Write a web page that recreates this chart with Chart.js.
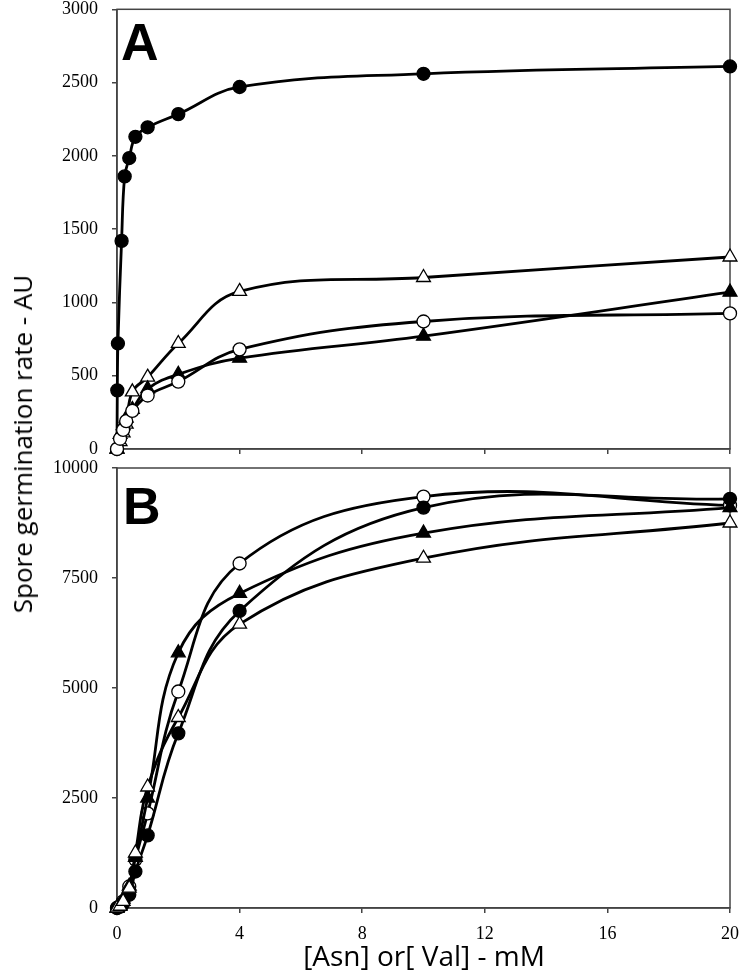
<!DOCTYPE html>
<html>
<head>
<meta charset="utf-8">
<script src="https://cdn.jsdelivr.net/npm/chart.js@4.4.1/dist/chart.umd.min.js"></script>
<style>
  body { margin: 0; background: #fff; }
  #page { position: relative; width: 742px; height: 973px; overflow: hidden; background: #fff; }
  #chartA { position: absolute; left: 0; top: 0; }
  #chartB { position: absolute; left: 0; top: 458px; }
  .letter { position: absolute; font-family: "Liberation Sans", Arial, sans-serif; font-weight: bold; font-size: 52px; line-height: 1; color: #000; }
  .axis-title { position: absolute; font-family: "Open Sans", sans-serif; color: #000; white-space: nowrap; line-height: 1; }
  #ytitle { left: 22px; top: 444px; font-size: 26px; transform: translate(-50%, -50%) rotate(-90deg); }
  #xtitle { left: 424px; top: 955px; font-size: 28px; transform: translate(-50%, -50%); }
</style>
</head>
<body>
<div id="page">
  <canvas id="chartA" width="742" height="460"></canvas>
  <canvas id="chartB" width="742" height="515"></canvas>
  <div class="letter" style="left:121px;top:16px;">A</div>
  <div class="letter" style="left:123px;top:480px;">B</div>
  <div class="axis-title" id="ytitle">Spore germination rate - AU</div>
  <div class="axis-title" id="xtitle">[Asn] or[ Val] - mM</div>
</div>
<script>
// x ticks shared by both panels
const xTicks = [0, 4, 8, 12, 16, 20];

// Panel A
const xA_filledCircle = [0, 0.01, 0.03, 0.15, 0.25, 0.4, 0.6, 1, 2, 4, 10, 20];
const yA_filledCircle = [0, 400, 720, 1420, 1860, 1985, 2130, 2195, 2285, 2470, 2560, 2610];
const xA = [0, 0.1, 0.2, 0.3, 0.5, 1, 2, 4, 10, 20];
const yA_openTriangle = [0, 50, 110, 170, 390, 490, 720, 1075, 1170, 1310];
const yA_openCircle = [0, 70, 130, 190, 260, 365, 460, 680, 870, 925];
const yA_filledTriangle = [0, 100, 160, 210, 270, 410, 510, 620, 770, 1070];

// Panel B
const xB = [0, 0.1, 0.2, 0.4, 0.6, 1, 2, 4, 10, 20];
const yB_openCircle = [0, 50, 150, 490, 1100, 2150, 4920, 7830, 9350, 9150];
const yB_filledCircle = [0, 30, 100, 300, 830, 1650, 3970, 6750, 9100, 9300];
const yB_filledTriangle = [0, 60, 200, 500, 1150, 2500, 5800, 7150, 8520, 9100];
const yB_openTriangle = [0, 40, 150, 450, 1250, 2750, 4330, 6450, 7950, 8750];

const AXIS_COLOR = '#444';
const TICK_FONT = { family: '"Liberation Serif", "Times New Roman", serif', size: 18 };

function series(xs, ys, style, filled) {
  return {
    data: xs.map((x, i) => ({ x: x, y: ys[i] })),
    showLine: true,
    borderColor: '#000',
    borderWidth: 2.8,
    tension: 0.4,
    pointStyle: style,
    pointRadius: style === 'triangle' ? 8 : 6.5,
    pointBackgroundColor: filled ? '#000' : '#fff',
    pointBorderColor: '#000',
    pointBorderWidth: 1.3,
    clip: false
  };
}

// draws the box round the plot area
const frame = {
  id: 'frame',
  beforeDatasetsDraw(chart) {
    const a = chart.chartArea;
    const ctx = chart.ctx;
    ctx.save();
    ctx.strokeStyle = AXIS_COLOR;
    ctx.lineWidth = 1.5;
    ctx.strokeRect(a.left, a.top, a.right - a.left, a.bottom - a.top);
    ctx.restore();
  }
};

function makeOptions(yMax, yStep, showXLabels, xHeight, padTop) {
  return {
    responsive: false,
    animation: false,
    layout: { padding: { top: padTop, right: 12, left: 0, bottom: 0 } },
    plugins: { legend: { display: false }, tooltip: { enabled: false } },
    scales: {
      x: {
        type: 'linear',
        min: 0,
        max: 20,
        afterBuildTicks(scale) { scale.ticks = xTicks.map(v => ({ value: v })); },
        afterFit(scale) {
          scale.height = xHeight;
          scale.paddingLeft = 0;
          scale.paddingRight = 0;
        },
        grid: { drawOnChartArea: false, drawTicks: true, tickLength: 5, color: AXIS_COLOR, lineWidth: 1.5 },
        border: { color: AXIS_COLOR, width: 1.5 },
        ticks: { display: showXLabels, color: '#000', font: TICK_FONT, padding: 10, maxRotation: 0,
                 callback: v => String(v) }
      },
      y: {
        min: 0,
        max: yMax,
        afterFit(scale) {
          scale.width = 117;
          scale.paddingTop = 0;
          scale.paddingBottom = 0;
        },
        grid: { drawOnChartArea: false, drawTicks: true, tickLength: 5, color: AXIS_COLOR, lineWidth: 1.5 },
        border: { color: AXIS_COLOR, width: 1.5 },
        ticks: { stepSize: yStep, color: '#000', font: TICK_FONT, padding: 14, callback: v => String(v) }
      }
    }
  };
}

new Chart(document.getElementById('chartA'), {
  type: 'scatter',
  data: {
    datasets: [
      series(xA, yA_openCircle, 'circle', false),
      series(xA, yA_filledTriangle, 'triangle', true),
      series(xA, yA_openTriangle, 'triangle', false),
      series(xA_filledCircle, yA_filledCircle, 'circle', true)
    ]
  },
  options: makeOptions(3000, 500, false, 11, 7),
  plugins: [frame]
});

new Chart(document.getElementById('chartB'), {
  type: 'scatter',
  data: {
    datasets: [
      series(xB, yB_openTriangle, 'triangle', false),
      series(xB, yB_filledTriangle, 'triangle', true),
      series(xB, yB_filledCircle, 'circle', true),
      series(xB, yB_openCircle, 'circle', false)
    ]
  },
  options: makeOptions(10000, 2500, true, 65, 10),
  plugins: [frame]
});
</script>
</body>
</html>
